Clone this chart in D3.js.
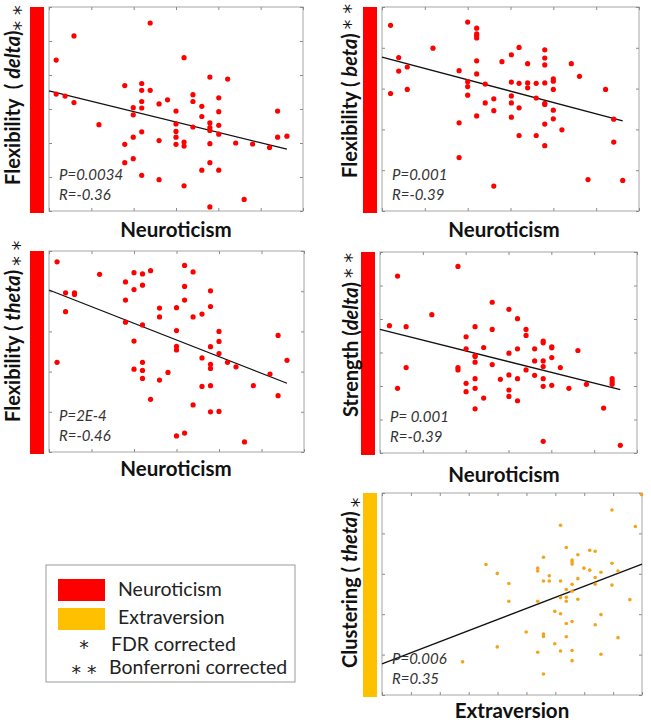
<!DOCTYPE html>
<html>
<head>
<meta charset="utf-8">
<script src="https://cdn.jsdelivr.net/npm/d3@7"></script>
<style>
  body { margin: 0; background: #fff; }
  svg text { font-family: Lato, "Open Sans", sans-serif; }
</style>
</head>
<body>
<div id="chart"></div>
<script>
// scatter values, in tick units of each panel
var flexDelta = [[2.39,5.53],[0.59,5.15],[0.17,4.44],[3.19,4.51],[0.17,3.44],[0.38,3.38],[0.59,3.19],
  [3.80,3.94],[4.22,3.88],[1.79,3.69],[2.19,3.75],[2.19,3.55],[2.39,3.55],[2.19,3.22],[1.99,3.04],
  [2.19,3.03],[1.99,2.83],[2.60,3.15],[2.80,3.27],[3.00,2.94],[3.40,3.42],[3.40,3.22],[3.61,3.08],
  [3.61,2.78],[3.80,2.59],[3.80,2.45],[3.80,2.37],[4.01,3.33],[4.01,2.92],[4.01,2.52],[4.01,2.26],
  [1.18,2.54],[3.00,2.56],[3.00,2.34],[3.00,2.17],[3.00,1.96],[3.19,2.03],[3.19,1.91],[3.40,2.47],
  [2.19,2.33],[1.99,2.17],[1.79,1.96],[2.60,2.07],[3.80,1.98],[4.41,2.00],[4.81,1.97],[5.21,1.87],
  [5.40,2.94],[5.40,2.17],[5.62,2.20],[1.79,1.42],[1.99,1.54],[2.19,1.05],[2.60,0.92],[3.19,0.74],
  [3.61,1.20],[3.80,1.42],[4.01,1.20],[4.61,0.34],[3.80,0.12]];
var flexDeltaFit = [[0,3.53],[5.62,1.82]];

var flexBeta = [[0.20,4.55],[2.00,4.63],[2.21,4.48],[2.21,4.34],[2.21,4.30],[2.21,4.24],[1.19,3.99],
  [3.20,4.01],[3.80,3.95],[3.02,3.83],[0.39,3.76],[3.80,3.75],[2.21,3.68],[2.80,3.66],[3.40,3.61],
  [3.80,3.58],[4.42,3.61],[0.59,3.53],[0.39,3.43],[1.80,3.44],[2.21,3.36],[4.61,3.30],[2.00,3.17],
  [2.00,3.05],[2.41,3.11],[3.02,3.16],[3.20,3.13],[3.40,3.14],[3.40,3.02],[3.60,3.13],[3.80,3.14],
  [4.00,3.24],[4.00,3.18],[4.00,2.98],[0.59,2.98],[5.22,2.98],[0.20,2.88],[2.00,2.84],[3.02,2.82],
  [3.60,2.77],[2.61,2.75],[2.41,2.65],[3.02,2.65],[3.80,2.64],[3.80,2.61],[3.20,2.53],[2.61,2.46],
  [4.00,2.47],[2.21,2.33],[3.02,2.30],[4.00,2.26],[5.41,2.25],[1.80,2.16],[3.80,2.13],[4.20,1.99],
  [3.20,1.85],[3.60,1.85],[3.80,1.60],[5.41,1.69],[1.80,1.31],[4.81,0.77],[5.62,0.75],[2.61,0.61]];
var flexBetaFit = [[0,3.77],[5.62,2.21]];

var flexTheta = [[0.19,4.73],[1.19,4.42],[2.00,4.46],[2.20,4.43],[2.39,4.51],[3.19,4.64],[3.39,4.48],
  [1.80,4.23],[2.20,4.15],[2.00,4.04],[3.19,4.12],[3.80,4.01],[0.39,3.96],[0.60,3.96],[0.60,3.92],
  [1.80,3.78],[3.19,3.78],[2.60,3.58],[3.00,3.59],[3.80,3.62],[0.39,3.49],[2.60,3.36],[3.39,3.36],
  [3.60,3.43],[1.80,3.23],[2.20,3.16],[3.00,3.02],[4.00,3.00],[2.00,2.76],[4.00,2.75],[5.39,2.90],
  [3.00,2.63],[3.00,2.54],[3.80,2.62],[4.00,2.45],[3.60,2.34],[0.19,2.23],[2.20,2.23],[4.20,2.23],
  [4.40,2.12],[3.80,2.18],[3.80,2.08],[5.60,2.28],[2.00,2.06],[2.20,2.03],[2.80,1.98],[5.20,1.94],
  [2.20,1.83],[2.60,1.79],[3.60,1.63],[3.80,1.65],[4.81,1.65],[5.39,1.40],[2.39,1.31],[3.39,1.17],
  [3.80,1.00],[4.00,1.01],[3.00,0.40],[3.19,0.47],[4.60,0.25]];
var flexThetaFit = [[0,4.03],[5.60,1.71]];

var strengthDelta = [[1.82,5.57],[0.41,5.28],[2.62,4.50],[3.01,4.29],[1.21,4.13],[3.21,4.01],[0.22,3.80],
  [0.61,3.77],[2.22,3.77],[2.62,3.69],[3.41,3.69],[3.41,3.51],[2.01,3.47],[3.81,3.34],[3.81,3.29],
  [4.01,3.17],[4.01,3.14],[2.42,3.15],[2.01,3.11],[3.21,3.11],[3.61,3.11],[4.62,3.06],[3.01,2.98],
  [2.22,2.91],[2.22,2.88],[4.01,2.85],[2.22,2.71],[3.61,2.75],[3.81,2.75],[2.62,2.64],[3.81,2.58],
  [4.21,2.55],[0.61,2.55],[1.82,2.55],[1.82,2.48],[3.41,2.48],[3.01,2.33],[3.61,2.32],[2.22,2.22],
  [2.81,2.20],[3.21,2.22],[3.81,2.22],[5.42,2.22],[5.42,2.13],[5.42,2.05],[4.82,2.05],[2.01,2.08],
  [4.01,2.02],[3.81,1.99],[0.41,1.93],[2.22,1.93],[4.41,1.93],[3.01,1.88],[2.01,1.83],[3.01,1.69],
  [2.42,1.64],[3.21,1.56],[2.22,1.32],[5.22,1.34],[3.81,0.35],[5.61,0.23]];
var strengthDeltaFit = [[0,3.69],[5.61,1.89]];

var clusterTheta = [[8.98,4.96],[7.96,4.58],[8.77,4.17],[6.18,4.20],[6.38,3.65],[7.19,3.58],[7.38,3.56],
  [5.59,3.41],[6.78,3.47],[6.58,3.34],[6.58,3.29],[6.58,3.24],[3.60,3.23],[7.96,3.26],[5.39,3.14],
  [5.39,3.07],[6.99,3.14],[7.19,3.09],[7.58,3.04],[8.17,3.07],[3.99,3.01],[5.79,2.95],[7.38,2.91],
  [5.59,2.82],[5.79,2.82],[6.18,2.82],[6.78,2.88],[4.39,2.76],[6.58,2.74],[7.38,2.74],[7.96,2.72],
  [6.38,2.61],[6.58,2.57],[6.18,2.41],[6.38,2.42],[6.38,2.32],[5.39,2.32],[4.39,2.32],[6.78,2.37],
  [8.58,2.36],[5.98,2.07],[6.18,2.01],[7.58,1.99],[6.38,1.77],[7.38,1.74],[6.58,1.82],[4.99,1.56],
  [5.59,1.51],[5.59,1.45],[6.38,1.44],[8.17,1.42],[3.99,1.19],[5.98,1.27],[6.18,1.09],[6.58,1.10],
  [5.39,1.06],[7.58,1.01],[6.58,0.85],[2.79,0.82],[5.59,0.52]];
var clusterThetaFit = [[0,0.77],[9,3.24]];

var pValues = ["P=0.0034", "P=0.001", "P=2E-4", "P= 0.001", "P=0.006"];
var rValues = ["R=-0.36", "R=-0.39", "R=-0.46", "R=-0.39", "R=0.35"];
var legendItems = ["Neuroticism", "Extraversion"];
var legendNotes = [["*", "FDR corrected"], ["* *", "Bonferroni corrected"]];

var RED = "#ff0000", GOLD = "#ffc000", ORANGE = "#f5a31c";
var STAR_FONT = "'DejaVu Sans', sans-serif";
var NB = "\u00a0";

var panels = [
  { data: flexDelta, fit: flexDeltaFit, x0: 49, y0: 7, x1: 303, y1: 211, xMax: 6, yMax: 6,
    bar: RED, dot: RED, r: 2.6, label: ["Flexibility" + NB + NB + "(" + NB, "delta", ")"], stars: "* *",
    starDy: 7, starDx: 0, labX: 20, labY: 185, xLabel: "Neuroticism", xlx: 176, xly: 237 },
  { data: flexBeta, fit: flexBetaFit, x0: 382, y0: 7, x1: 639, y1: 211, xMax: 6, yMax: 5,
    bar: RED, dot: RED, r: 2.6, label: ["Flexibility ( ", "beta", ")"], stars: "* *",
    starDy: 0, starDx: 4, labX: 357, labY: 178, xLabel: "Neuroticism", xlx: 504, xly: 237 },
  { data: flexTheta, fit: flexThetaFit, x0: 49, y0: 251, x1: 304, y1: 452, xMax: 6, yMax: 5,
    bar: RED, dot: RED, r: 2.6, label: ["Flexibility ( ", "theta", ")"], stars: "* *",
    starDy: 6, starDx: 4, labX: 20, labY: 422, xLabel: "Neuroticism", xlx: 176, xly: 476 },
  { data: strengthDelta, fit: strengthDeltaFit, x0: 380, y0: 252, x1: 637, y1: 453, xMax: 6, yMax: 6,
    bar: RED, dot: RED, r: 2.6, label: ["Strength (", "delta", ")"], stars: "* *",
    starDy: 0, starDx: 4, labX: 358, labY: 417, xLabel: "Neuroticism", xlx: 504, xly: 482 },
  { data: clusterTheta, fit: clusterThetaFit, x0: 382, y0: 493, x1: 642, y1: 695, xMax: 9, yMax: 5,
    bar: GOLD, dot: ORANGE, r: 1.8, label: ["Clustering ( ", "theta", ")"], stars: "*",
    starDy: 8, starDx: 4, labX: 357, labY: 668, xLabel: "Extraversion", xlx: 512, xly: 718 }
];

var svg = d3.select("#chart").append("svg")
  .attr("width", 651)
  .attr("height", 723);

panels.forEach(function (p, i) {
  var x = d3.scaleLinear().domain([0, p.xMax]).range([p.x0, p.x1]);
  var y = d3.scaleLinear().domain([0, p.yMax]).range([p.y1, p.y0]);
  var g = svg.append("g");

  // coloured side bar
  g.append("rect")
    .attr("x", p.x0 - 19).attr("y", p.y0).attr("width", 14).attr("height", p.y1 - p.y0 + 2)
    .attr("fill", p.bar);

  // frame + inward ticks on all sides
  g.append("rect")
    .attr("x", p.x0).attr("y", p.y0).attr("width", p.x1 - p.x0).attr("height", p.y1 - p.y0)
    .attr("fill", "none").attr("stroke", "#a6a6a6").attr("stroke-width", 1);

  var xt = d3.range(0, p.xMax + 1), yt = d3.range(0, p.yMax + 1);
  var axes = [
    [d3.axisBottom(x).tickValues(xt), "translate(0," + p.y1 + ")"],
    [d3.axisTop(x).tickValues(xt), "translate(0," + p.y0 + ")"],
    [d3.axisLeft(y).tickValues(yt), "translate(" + p.x0 + ",0)"],
    [d3.axisRight(y).tickValues(yt), "translate(" + p.x1 + ",0)"]
  ];
  axes.forEach(function (a) {
    var ax = g.append("g").attr("transform", a[1])
      .call(a[0].tickSize(-3).tickSizeOuter(0).tickFormat(""));
    ax.select(".domain").remove();
    ax.selectAll("line").attr("stroke", "#8c8c8c");
  });

  // regression line
  g.append("line")
    .attr("x1", x(p.fit[0][0])).attr("y1", y(p.fit[0][1]))
    .attr("x2", x(p.fit[1][0])).attr("y2", y(p.fit[1][1]))
    .attr("stroke", "#111").attr("stroke-width", 1.3);

  g.selectAll("circle").data(p.data).enter().append("circle")
    .attr("cx", function (d) { return x(d[0]); })
    .attr("cy", function (d) { return y(d[1]); })
    .attr("r", p.r)
    .attr("fill", p.dot);

  // stats text
  g.append("text").attr("x", p.x0 + 10).attr("y", p.y1 - 31)
    .attr("font-size", 15).attr("font-style", "italic").attr("fill", "#333")
    .text(pValues[i]);
  g.append("text").attr("x", p.x0 + 10).attr("y", p.y1 - 11)
    .attr("font-size", 15).attr("font-style", "italic").attr("fill", "#333")
    .text(rValues[i]);

  // x label
  g.append("text").attr("x", p.xlx).attr("y", p.xly)
    .attr("text-anchor", "middle").attr("font-size", 20.5).attr("font-weight", "bold")
    .attr("fill", "#111").text(p.xLabel);

  // y label, rotated
  var t = g.append("text")
    .attr("transform", "translate(" + p.labX + "," + p.labY + ") rotate(-90)")
    .attr("font-size", 20).attr("font-weight", "bold").attr("fill", "#111");
  t.append("tspan").text(p.label[0]);
  t.append("tspan").attr("font-style", "italic").text(p.label[1]);
  t.append("tspan").text(p.label[2]);
  t.append("tspan").attr("dy", p.starDy).attr("dx", p.starDx)
    .style("font-family", STAR_FONT).attr("font-size", 19).attr("font-weight", "normal")
    .text(p.stars);
});

// legend
var lg = svg.append("g");
lg.append("rect").attr("x", 46).attr("y", 565).attr("width", 249).attr("height", 117)
  .attr("fill", "none").attr("stroke", "#9a9a9a");
lg.selectAll(".sw").data(legendItems).enter().append("rect")
  .attr("x", 58).attr("y", function (d, i) { return 579 + i * 29; })
  .attr("width", 47).attr("height", 22)
  .attr("fill", function (d, i) { return i === 0 ? RED : GOLD; });
lg.selectAll(".lt").data(legendItems).enter().append("text")
  .attr("x", 118).attr("y", function (d, i) { return 596 + i * 28; })
  .attr("font-size", 19.5).attr("fill", "#222").text(function (d) { return d; });
lg.selectAll(".ns").data(legendNotes).enter().append("text")
  .attr("x", 84).attr("y", function (d, i) { return 654 + i * 25; })
  .attr("text-anchor", "middle").attr("font-size", 19).attr("fill", "#222")
  .style("font-family", STAR_FONT)
  .text(function (d) { return d[0]; });
lg.selectAll(".nt").data(legendNotes).enter().append("text")
  .attr("x", function (d, i) { return i === 0 ? 111 : 109; })
  .attr("y", function (d, i) { return 651 + i * 23; })
  .attr("font-size", 19.5).attr("fill", "#222")
  .text(function (d) { return d[1]; });
</script>
</body>
</html>
